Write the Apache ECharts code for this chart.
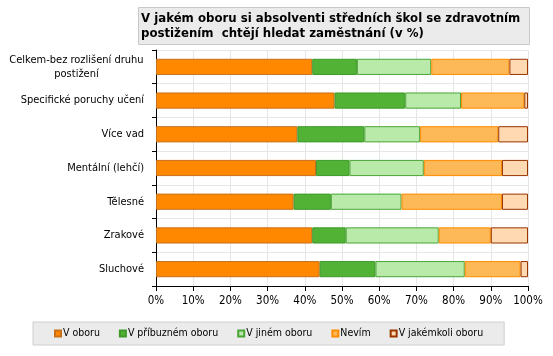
<!DOCTYPE html>
<html>
<head>
<meta charset="utf-8">
<script src="https://cdn.jsdelivr.net/npm/echarts@6/dist/echarts.min.js"></script>
<style>html,body{margin:0;padding:0;background:#fff}#c{width:553px;height:356px}</style>
</head>
<body>
<div id="c"></div>
<script>
var categories = ['Celkem-bez rozlišení druhu\npostižení', 'Specifické poruchy učení', 'Více vad', 'Mentální (lehčí)', 'Tělesné', 'Zrakové', 'Sluchové'];
var vOboru =       [42, 48, 38, 43, 37, 42, 44];
var vPribuznem =   [12, 19, 18,  9, 10,  9, 15];
var vJinem =       [20, 15, 15, 20, 19, 25, 24];
var nevim =        [21, 17, 21, 21, 27, 14, 15];
var vJakemkoli =   [ 5,  1,  8,  7,  7, 10,  2];
var seriesNames = ['V oboru', 'V příbuzném oboru', 'V jiném oboru', 'Nevím', 'V jakémkoli oboru'];
var xTicks = [0, 10, 20, 30, 40, 50, 60, 70, 80, 90, 100];

var fills = ['#ff8800', '#52b236', '#b9eaaa', '#fdb857', '#fed9b1'];
var borders = ['#c8701a', '#3e9a2a', '#4aa436', '#ff8c00', '#993300'];
var values = [vOboru, vPribuznem, vJinem, nevim, vJakemkoli];

var FONT = 'DejaVu Sans';
var CFONT = '"DejaVu Sans Condensed", "DejaVu Sans"';
var LABEL_SIZE = 11;

function measure(t, size, fam) {
  var c = document.createElement('canvas').getContext('2d');
  c.font = size + 'px ' + fam;
  return Math.ceil(c.measureText(t).width);
}

var chart = echarts.init(document.getElementById('c'), null, {renderer: 'canvas'});
var series = seriesNames.map(function (n, i) {
  return {
    name: n, type: 'bar', stack: 'all', barWidth: '48%',
    data: values[i],
    itemStyle: {color: fills[i], borderColor: borders[i], borderWidth: 1},
    emphasis: {disabled: true}
  };
});
var firstLine = categories[0].split('\n')[0];
var richW = measure(firstLine, LABEL_SIZE, CFONT);

chart.setOption({
  animation: false,
  textStyle: {fontFamily: FONT},
  title: {
    text: 'V jakém oboru si absolventi středních škol se zdravotním\npostižením  chtějí hledat zaměstnání (v %)',
    left: 138, top: 7,
    padding: [4, 9, 4, 3],
    backgroundColor: '#ebebeb', borderColor: '#c8c8c8', borderWidth: 1,
    textStyle: {fontFamily: FONT, fontWeight: 'bold', fontSize: 11.75, color: '#000', lineHeight: 15}
  },
  grid: {left: 156, right: 25, top: 50, bottom: 70, containLabel: false},
  xAxis: {
    type: 'value', min: 0, max: 100, interval: 10,
    axisLine: {show: true, lineStyle: {color: '#000'}},
    axisTick: {show: true, length: 5, lineStyle: {color: '#000'}},
    splitLine: {show: true, lineStyle: {color: '#e6e6e6'}},
    axisLabel: {formatter: '{value}%', color: '#000', fontSize: 11.5, fontFamily: CFONT, margin: 9}
  },
  yAxis: {
    type: 'category', data: categories, inverse: true,
    axisLine: {show: true, lineStyle: {color: '#000'}},
    axisTick: {show: true, length: 4, lineStyle: {color: '#000'}},
    splitLine: {show: true, lineStyle: {color: '#e6e6e6'}},
    axisLabel: {
      color: '#000', fontSize: LABEL_SIZE, fontFamily: CFONT, margin: 12,
      formatter: function (v) {
        if (v.indexOf('\n') >= 0) {
          var p = v.split('\n');
          return '{c|' + p[0] + '}\n{c|' + p[1] + '}';
        }
        return v;
      },
      rich: {c: {width: richW, align: 'center', fontSize: LABEL_SIZE, fontFamily: CFONT, color: '#000', lineHeight: 14}}
    }
  },
  legend: {
    left: 33, top: 322, width: 470,
    padding: [6, 21, 6, 21],
    itemWidth: 6, itemHeight: 6, itemGap: 19,
    icon: 'rect',
    backgroundColor: '#ebebeb', borderColor: '#cfcfcf', borderWidth: 1,
    textStyle: {fontFamily: CFONT, fontSize: 10.5, color: '#000', padding: [0, 0, 0, -3]},
    data: seriesNames
  },
  series: series
});
</script>
</body>
</html>
